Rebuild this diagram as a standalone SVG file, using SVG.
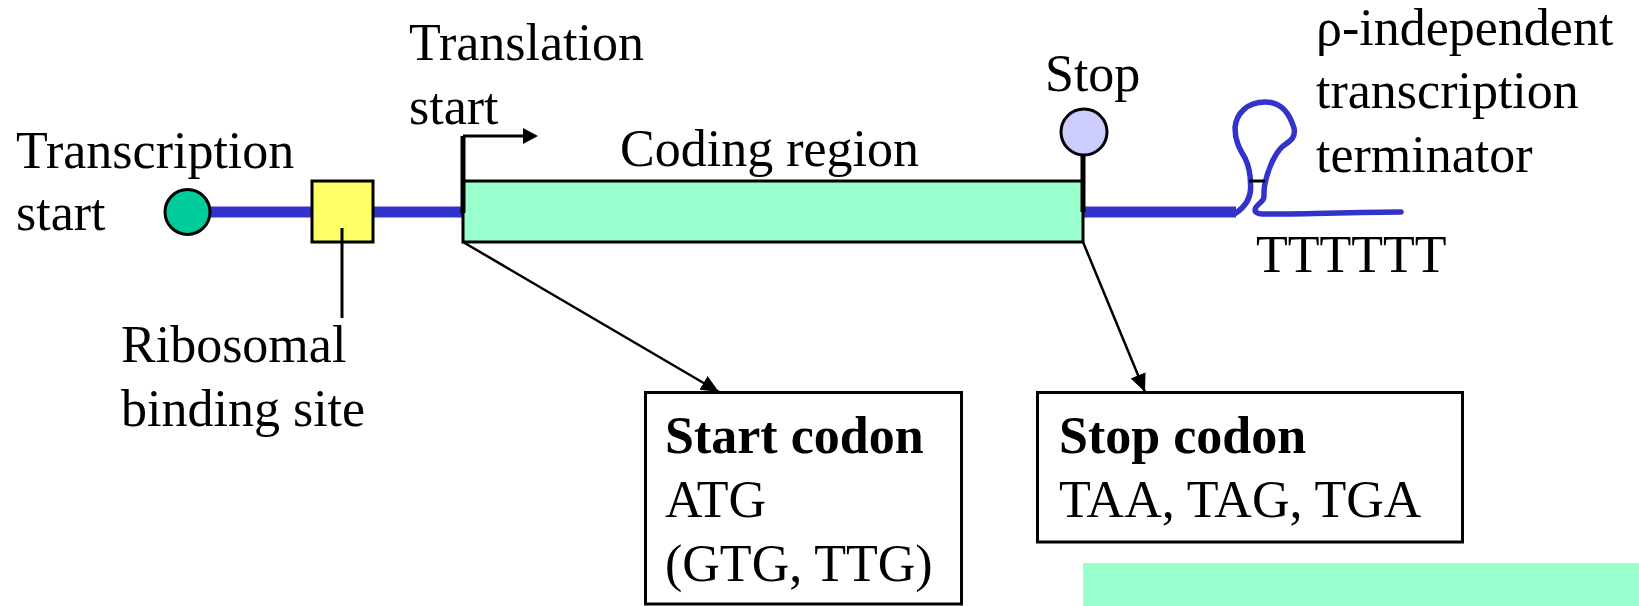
<svg xmlns="http://www.w3.org/2000/svg" width="1639" height="606" viewBox="0 0 1639 606">
  <style>
    text { font-family: "Liberation Serif", "Times New Roman", serif; font-size: 52px; fill: #000; }
    .b { font-weight: bold; }
    .dna { stroke: #3333cc; stroke-width: 11; fill: none; }
    .loop { stroke: #3333cc; stroke-width: 5.5; fill: none; stroke-linejoin: round; stroke-linecap: round; }
    .outline { stroke: #000; stroke-width: 3; }
    .bar { stroke: #000; stroke-width: 5; }
    .conn { stroke: #000; stroke-width: 2.5; fill: none; }
    .box { fill: #fff; stroke: #000; stroke-width: 3; }
  </style>
  <defs>
    <marker id="head" viewBox="0 0 18 16" refX="18" refY="8" markerWidth="18" markerHeight="16" markerUnits="userSpaceOnUse" orient="auto">
      <path d="M0,0 L18,8 L0,16 Z" fill="#000"/>
    </marker>
  </defs>

  <rect id="legend-swatch" x="1083" y="563" width="556" height="43" fill="#99ffcc"/>

  <!-- DNA backbone -->
  <g id="backbone">
    <line class="dna" x1="200" y1="212" x2="463" y2="212"/>
    <line class="dna" x1="1083" y1="212" x2="1236" y2="212"/>
  </g>

  <g id="transcription-start">
    <circle cx="187.5" cy="212" r="22.5" fill="#00cc99" class="outline"/>
    <text x="16" y="168">Transcription</text>
    <text x="16" y="230">start</text>
  </g>

  <g id="rbs">
    <rect x="312" y="181" width="61" height="61" fill="#ffff66" class="outline"/>
    <line x1="342" y1="228" x2="342" y2="318" stroke="#000" stroke-width="3"/>
    <text x="121" y="362">Ribosomal</text>
    <text x="121" y="426">binding site</text>
  </g>

  <g id="coding-region">
    <rect x="463" y="181" width="620" height="61" fill="#99ffcc" class="outline"/>
    <text x="620" y="166">Coding region</text>
  </g>

  <g id="translation-start">
    <line class="bar" x1="463" y1="136" x2="463" y2="213"/>
    <line x1="463" y1="136" x2="524" y2="136" stroke="#000" stroke-width="3"/>
    <path d="M523,128 L538,136 L523,144 Z" fill="#000"/>
    <text x="409" y="60">Translation</text>
    <text x="409" y="124">start</text>
  </g>

  <g id="stop">
    <line class="bar" x1="1083" y1="154" x2="1083" y2="212"/>
    <circle cx="1084" cy="132" r="23" fill="#ccccff" class="outline"/>
    <text x="1045" y="91">Stop</text>
  </g>

  <g id="terminator">
    <path class="loop" d="M1236,213 C1243,208 1250,200 1250.5,190 C1251,178 1249,166 1245,158 C1239,148 1235,140 1235,128 C1236,113 1248,102 1265,102 C1281,102 1289,112 1294,128 C1296,138 1290,141 1283,146 C1274,154 1267,172 1264.5,186 C1263,197 1266,198 1260,203 C1254,208 1252,213 1262,214 C1280,214.5 1320,213 1401,212"/>
    <line x1="1249" y1="181" x2="1265" y2="181" stroke="#000" stroke-width="3"/>
    <text x="1316" y="45">ρ-independent</text>
    <text x="1316" y="108">transcription</text>
    <text x="1316" y="172">terminator</text>
    <text x="1256" y="272">TTTTTT</text>
  </g>

  <g id="start-codon">
    <rect class="box" x="645.5" y="392.5" width="316" height="211.5"/>
    <text class="b" x="665" y="453">Start codon</text>
    <text x="665" y="517">ATG</text>
    <text x="665" y="581">(GTG, TTG)</text>
  </g>

  <g id="stop-codon">
    <rect class="box" x="1037.5" y="392.5" width="425" height="149.5"/>
    <text class="b" x="1059" y="453">Stop codon</text>
    <text x="1059" y="517">TAA, TAG, TGA</text>
  </g>

  <!-- connectors -->
  <g id="connectors">
    <line class="conn" x1="463" y1="242" x2="719" y2="392" marker-end="url(#head)"/>
    <line class="conn" x1="1083" y1="242" x2="1145" y2="392" marker-end="url(#head)"/>
  </g>
</svg>
